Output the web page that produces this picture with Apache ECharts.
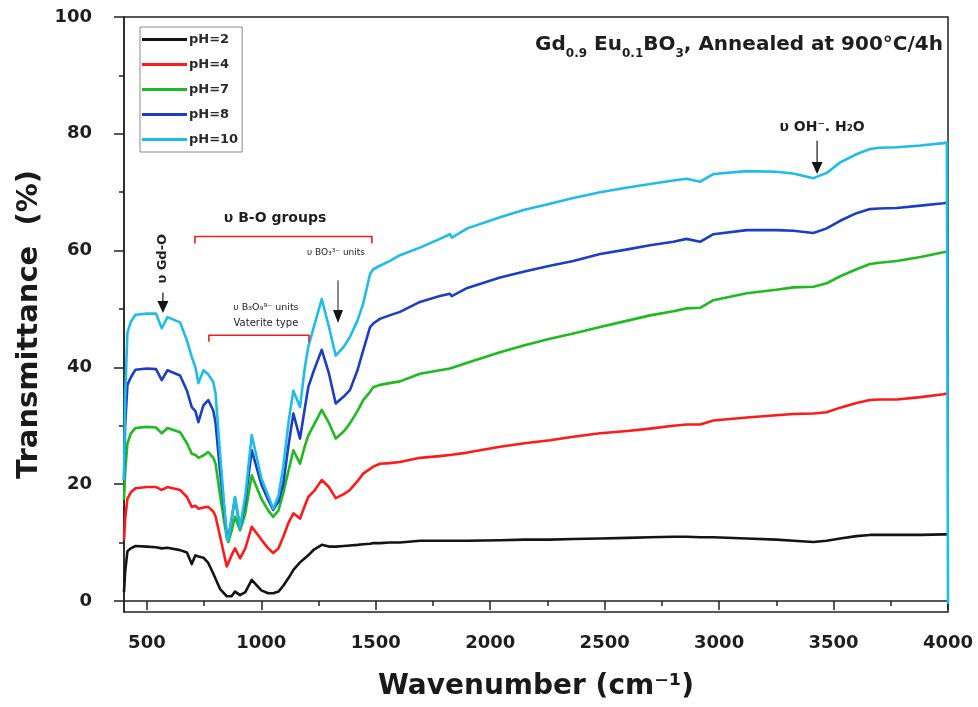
<!DOCTYPE html>
<html><head><meta charset="utf-8">
<script src="https://cdn.jsdelivr.net/npm/echarts@6/dist/echarts.min.js"></script>
<style>html,body{margin:0;padding:0;background:#fff}#c{width:978px;height:707px}</style>
</head><body><div id="c"></div>
<script>
// ---- data ----
const wavenumber = [
  400,405,415,430,450,500,540,565,590,645,
  675,696,712,725,747,768,790,800,820,849,
  856,870,885,907,930,958,1000,1030,1052,1075,
  1096,1120,1140,1169,1190,1205,1230,1264,1295,1325,
  1360,1387,1420,1445,1475,1489,1518,1560,1606,1693,
  1780,1824,1832,1900,2043,2150,2261,2363,2480,2600,
  2698,2800,2858,2917,2975,3121,3250,3324,3412,3470,
  3529,3600,3659,3700,3776,3880,3980,3995,4000];

const pH2 = [
  1.5,5,8.5,9,9.4,9.3,9.2,9,9.1,8.7,
  8.3,6.3,7.8,7.6,7.4,6.5,4.7,3.8,2,0.8,
  0.7,0.8,1.6,1,1.5,3.6,1.8,1.3,1.3,1.6,
  2.6,4,5.3,6.6,7.3,7.8,8.8,9.6,9.3,9.3,
  9.4,9.5,9.6,9.7,9.8,9.9,9.9,10,10,10.3,
  10.3,10.3,10.1,10.3,10.4,10.5,10.5,10.6,10.7,10.8,
  10.9,11,11,10.9,10.9,10.7,10.5,10.3,10.1,10.3,
  10.7,11.1,11.3,11.3,11.3,11.3,11.4,11.4,11.4];

const pH4 = [
  10.4,14,17.5,18.6,19.3,19.5,19.5,19,19.5,19,
  17.8,16.1,16.3,15.8,16,16.1,15.3,14.5,11,5.9,
  6,7.8,9,7.3,9,12.7,10.5,9,8.2,9,
  11,13.5,15,14.1,16.3,17.8,18.8,20.7,19.5,17.6,
  18.3,19,20.5,21.8,22.6,23,23.5,23.6,23.8,24.5,
  24.8,25,24.9,25.4,26.4,27,27.5,28.1,28.7,29.1,
  29.5,30,30.2,30.2,30.9,31.4,31.8,32,32.1,32.3,
  33.1,33.9,34.4,34.5,34.5,34.9,35.4,35.5,35.5];

const pH7 = [
  17.3,22,27,28.7,29.6,29.8,29.7,28.7,29.6,28.9,
  27,25.2,25,24.5,24.9,25.5,24.5,23.5,18,10.8,
  10.1,12,14.4,12.1,15,21.5,17.5,15.5,14.4,15.5,
  18.5,22.5,25.8,23.5,26.5,28.3,30.2,32.7,30.5,27.8,
  29,30.4,32.5,34.4,35.8,36.6,37,37.3,37.6,38.9,
  39.5,39.8,39.6,40.8,42.6,43.8,44.9,45.8,46.9,48,
  48.9,49.6,50.1,50.2,51.5,52.7,53.3,53.7,53.8,54.4,
  55.6,56.8,57.7,57.9,58.2,58.9,59.7,59.8,59.8];

const pH8 = [
  20.7,30,37,38.3,39.6,39.8,39.7,37.8,39.5,38.6,
  36,33.2,32.5,30.6,33.5,34.4,32.6,30.5,22,11.5,
  10.7,14,17.6,12.5,17,25.8,20,17.3,15.6,17,
  20.1,27,32.1,27.8,33,36.6,39.5,43,39,33.8,
  35,36.1,39.5,42.9,46.9,47.5,48.3,48.9,49.5,51.2,
  52.2,52.6,52.2,53.6,55.4,56.4,57.4,58.2,59.4,60.2,
  60.9,61.5,62,61.5,62.8,63.5,63.5,63.4,63,63.8,
  65.1,66.4,67.1,67.2,67.3,67.7,68.1,68.2,68.2];

const pH10 = [
  20.7,35,46,47.8,49,49.2,49.2,46.7,48.6,47.7,
  44.6,41.8,40,37.3,39.5,38.8,37.5,35.5,25,11,
  10.4,14,17.8,12.5,18,28.4,21,18,15.8,18,
  23,31,36,33.2,40,43.5,47,51.7,47,42,
  43.5,45.2,48,50.9,56,56.8,57.4,58.2,59.2,60.5,
  62,62.8,62.2,63.8,65.7,67,68,69,70,70.8,
  71.4,72,72.3,71.8,73.1,73.6,73.5,73.2,72.4,73.3,
  75.1,76.5,77.4,77.6,77.7,78,78.4,78.5,-0.5];

const seriesNames = ['pH=2','pH=4','pH=7','pH=8','pH=10'];
const seriesValues = [pH2, pH4, pH7, pH8, pH10];
const xTickLabels = [500,1000,1500,2000,2500,3000,3500,4000];
const xMinorTicks = [750,1250,1750,2250,2750,3250,3750];
const yTickLabels = [0,20,40,60,80,100];
const yMinorTicks = [10,30,50,70,90];

// ---- styles ----
const colors = ['#141414','#ff1a1a','#1dbb1d','#1b3ec4','#1ebde8'];
const FONT = 'DejaVu Sans';

const chart = echarts.init(document.getElementById('c'));

const series = seriesNames.map((name, k) => ({
  name, type:'line', xAxisIndex:0, yAxisIndex:0,
  data: wavenumber.map((w,i)=>[w, seriesValues[k][i]]),
  showSymbol:false, symbol:'none', z: 2+k,
  lineStyle:{color:colors[k], width:2.6, join:'round'},
  itemStyle:{color:colors[k]}
}));

const plain = v => String(v);

chart.setOption({
  animation:false,
  backgroundColor:'#fff',
  grid:{left:124, right:30, top:17, bottom:95, show:true, borderColor:'#222', borderWidth:1.5, containLabel:false},
  legend:{
    data:seriesNames, orient:'vertical', left:140, top:27,
    icon:'rect', itemWidth:45, itemHeight:3, itemGap:12,
    padding:[6,4,6,2], borderColor:'#8a8a8a', borderWidth:1,
    textStyle:{fontFamily:FONT, fontWeight:'bold', fontSize:13, lineHeight:13, color:'#2a2a2a', padding:[0,0,0,-3]}
  },
  xAxis:[{
    type:'value', min:400, max:4000,
    name:'Wavenumber (cm⁻¹)', nameLocation:'middle', nameGap:61,
    nameTextStyle:{fontFamily:FONT, fontWeight:'bold', fontSize:28, color:'#1a1a1a'},
    axisLine:{lineStyle:{color:'#222', width:1.5}},
    axisTick:{show:true, length:9, lineStyle:{color:'#222', width:1.5}, customValues:xTickLabels},
    axisLabel:{fontFamily:FONT, fontWeight:'bold', fontSize:18, color:'#1e1e1e', margin:22, customValues:xTickLabels, formatter:plain},
    splitLine:{show:false}
  },{
    type:'value', min:400, max:4000, position:'bottom',
    axisLine:{show:false},
    axisTick:{show:true, length:5, lineStyle:{color:'#222', width:1.5}, customValues:xMinorTicks},
    axisLabel:{show:false}, splitLine:{show:false}
  }],
  yAxis:[{
    type:'value', min:-1.9, max:100,
    name:'Transmittance  (%)', nameLocation:'middle', nameGap:71, nameRotate:90,
    nameTextStyle:{fontFamily:FONT, fontWeight:'bold', fontSize:29, color:'#1a1a1a', padding:[0,20,0,0]},
    axisLine:{show:true, lineStyle:{color:'#222', width:1.5}},
    axisTick:{show:true, length:10, lineStyle:{color:'#222', width:1.5}, customValues:yTickLabels},
    axisLabel:{fontFamily:FONT, fontWeight:'bold', fontSize:18, color:'#1e1e1e', margin:32, customValues:yTickLabels, formatter:plain},
    splitLine:{show:false}
  },{
    type:'value', min:-1.9, max:100, position:'left',
    axisLine:{show:false},
    axisTick:{show:true, length:5, lineStyle:{color:'#222', width:1.5}, customValues:yMinorTicks},
    axisLabel:{show:false}, splitLine:{show:false}
  }],
  series
});

// ---- annotations (placed in data coordinates) ----
const P = (x,y)=>chart.convertToPixel({xAxisIndex:0, yAxisIndex:0}, [x,y]);
const INK = '#151515';
function arrow(x, yTop, yTip, headLen, headW, lw){
  const a = P(x,yTop), b = P(x,yTip);
  return [
    {type:'line', z:50, shape:{x1:a[0], y1:a[1], x2:b[0], y2:b[1]-headLen+2}, style:{stroke:INK, lineWidth:lw}},
    {type:'polygon', z:50, shape:{points:[[b[0]-headW/2, b[1]-headLen],[b[0]+headW/2, b[1]-headLen],[b[0], b[1]]]}, style:{fill:INK}}
  ];
}
function bracket(x1, x2, yLine, yEnd){
  const p1 = P(x1,yEnd), p2 = P(x1,yLine), p3 = P(x2,yLine), p4 = P(x2,yEnd);
  return {type:'polyline', z:50, shape:{points:[p1,p2,p3,p4]}, style:{stroke:'#e8201e', lineWidth:1.6, fill:null}};
}
function label(x, y, text, font, opts){
  const p = P(x,y);
  return Object.assign({type:'text', z:50, x:p[0], y:p[1],
    style:{text, font, fill:'#1e1e1e', align:'center', verticalAlign:'middle'}}, opts||{});
}

const g = [];
// υ Gd-O
g.push(label(570, 58.6, 'υ Gd-O', 'bold 13px "DejaVu Sans"', {rotation:Math.PI/2}));
g.push(...arrow(570, 52.8, 49.3, 12, 11, 1.2));
// υ B-O groups
g.push(label(1060, 65.6, 'υ B-O groups', 'bold 14px "DejaVu Sans"'));
g.push(bracket(710, 1483, 62.4, 61.2));
// υ BO3 3- units
g.push(label(1326, 59.6, 'υ BO₃³⁻ units', '9px "DejaVu Sans"', {}));
g.push(...arrow(1335, 54.9, 47.6, 13, 10, 1));
// υ B3O9 9- units / Vaterite type
g.push(label(1020, 50.3, 'υ B₃O₉⁹⁻ units', '9.5px "DejaVu Sans"'));
g.push(label(1020, 47.5, 'Vaterite type', '10px "DejaVu Sans"'));
g.push(bracket(771, 1208, 45.5, 44.4));
// υ OH-. H2O
g.push(label(3450, 81.1, 'υ OH⁻. H₂O', 'bold 14px "DejaVu Sans"'));
g.push(...arrow(3428, 78.8, 73.1, 12, 11, 1.2));
// title with subscripts
g.push({type:'text', z:50, x:943, y:45,
  style:{
    text:'{m|Gd}{s|0.9}{m| Eu}{s|0.1}{m|BO}{s|3}{m|, Annealed at 900°C/4h}',
    align:'right', verticalAlign:'middle',
    rich:{
      m:{fontFamily:FONT, fontSize:20, lineHeight:30, fill:'#1e1e1e', fontWeight:'bold', verticalAlign:'middle'},
      s:{fontFamily:FONT, fontSize:12, lineHeight:12, fill:'#1e1e1e', fontWeight:'bold', verticalAlign:'bottom'}
    }
  }});

chart.setOption({graphic:{elements:g}});
</script></body></html>
